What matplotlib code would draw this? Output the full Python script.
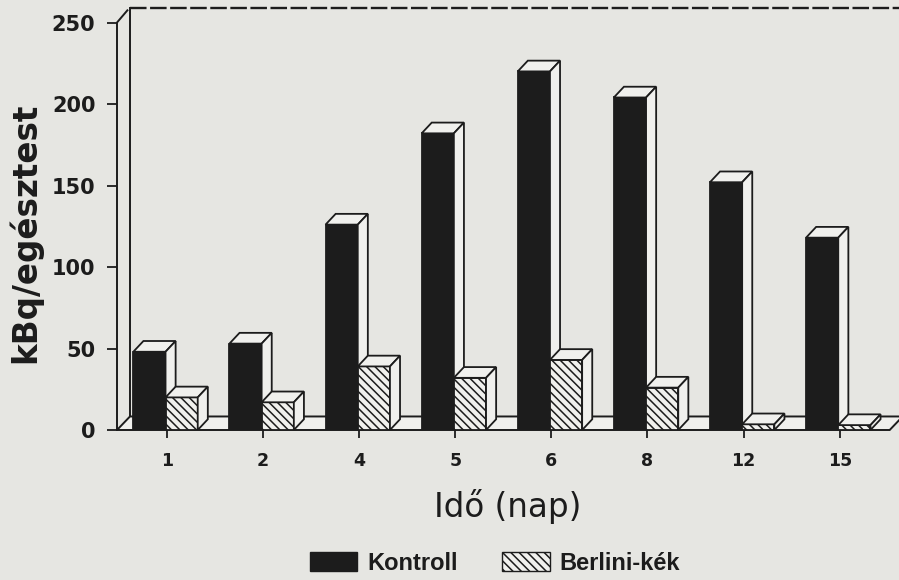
import numpy as np
import matplotlib.pyplot as plt
from matplotlib.patches import Rectangle, Polygon, Patch

# data
days = ['1', '2', '4', '5', '6', '8', '12', '15']
kontroll = [48, 53, 126, 182, 220, 204, 152, 118]
berlini = [20, 17, 39, 32, 43, 26, 3.5, 3]

plt.rcParams['font.family'] = ['Liberation Sans', 'DejaVu Sans']
plt.rcParams['hatch.linewidth'] = 1.1
bg = '#e6e6e2'
light = '#f0f0ed'
ink = '#1c1c1c'

fig = plt.figure(figsize=(8.99, 5.8), dpi=100, facecolor=bg)
ax = fig.add_axes([117/899, 150/580, 782/899, 422/580])
ax.set_facecolor(bg)
for s in ax.spines.values():
    s.set_visible(False)

x = np.arange(len(days))
xl, xr = -0.52, 7.617
ytop = 258.9
ax.set_xlim(xl, xr)
ax.set_ylim(0, ytop)

# depth of the pseudo 3d boxes
dx, dy = 0.105, 6.6
fdx, fdy = 0.135, 8.3
w = 0.335

# floor and back wall
ax.add_patch(Polygon([(xl, 0), (7.52, 0), (7.52 + fdx, fdy), (xl + fdx, fdy)],
                     closed=True, facecolor=light, edgecolor=ink, lw=1.4, clip_on=False))
ax.plot([xl + fdx, xl + fdx], [fdy, ytop], color=ink, lw=1.4, clip_on=False)
ax.plot([xl + fdx, xr], [ytop, ytop], color=ink, lw=1.7, ls=(0, (7, 1.5)), clip_on=False)
ax.plot([xl, xl, xl + fdx * 0.8], [0, 250, 250 + fdy * 0.9], color=ink, lw=1.4, clip_on=False)


def box(x0, h, face, hatch=None):
    ax.add_patch(Rectangle((x0, 0), w, h, facecolor=face, edgecolor=ink, lw=1.3, hatch=hatch))
    ax.add_patch(Polygon([(x0, h), (x0 + w, h), (x0 + w + dx, h + dy), (x0 + dx, h + dy)],
                         closed=True, facecolor=light, edgecolor=ink, lw=1.3))
    ax.add_patch(Polygon([(x0 + w, 0), (x0 + w + dx, dy), (x0 + w + dx, h + dy), (x0 + w, h)],
                         closed=True, facecolor=light, edgecolor=ink, lw=1.3))


for i in range(len(days)):
    box(x[i] - 0.35, kontroll[i], ink)
    box(x[i] - 0.015, berlini[i], light, '\\\\\\\\')

ax.set_yticks([0, 50, 100, 150, 200, 250])
ax.set_xticks(x)
ax.set_xticklabels(days)
ax.tick_params(axis='y', direction='out', length=7.5, width=1.3, pad=8, labelsize=15, colors=ink)
ax.tick_params(axis='x', direction='out', length=6, width=1.3, pad=10, labelsize=12.5, colors=ink)
for t in ax.get_yticklabels() + ax.get_xticklabels():
    t.set_fontweight('bold')
    t.set_family('DejaVu Sans')

fig.text(25/899, 1 - 233/580, 'kBq/egésztest', rotation=90, ha='center', va='center',
         fontsize=23.5, fontweight='bold', color=ink, family='DejaVu Sans')
fig.text(508/899, 1 - 507/580, 'Idő (nap)', ha='center', va='center', fontsize=23.5,
         color=ink, family='DejaVu Sans')

handles = [Patch(facecolor=ink, edgecolor=ink, label='Kontroll'),
           Patch(facecolor=light, edgecolor=ink, hatch='\\\\\\\\', label='Berlini-kék')]
leg = fig.legend(handles=handles, loc='center', bbox_to_anchor=(495/899, 1 - 563/580), ncol=2,
                 frameon=False, handlelength=2.0, handleheight=0.9, handletextpad=0.42,
                 columnspacing=1.9, prop={'size': 17, 'weight': 'bold'})
for t in leg.get_texts():
    t.set_color(ink)

fig.savefig('out.png', dpi=100, facecolor=bg)
